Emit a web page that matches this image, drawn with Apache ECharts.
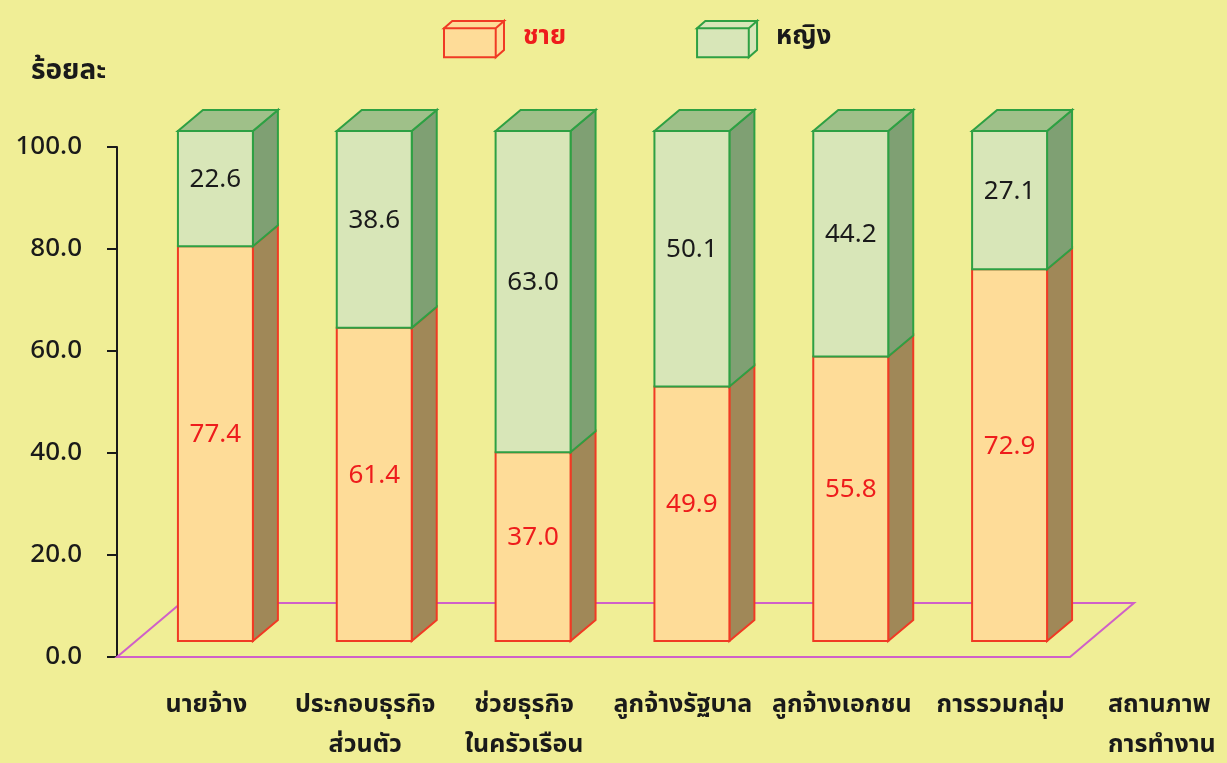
<!DOCTYPE html>
<html>
<head>
<meta charset="utf-8">
<script src="https://cdn.jsdelivr.net/npm/echarts@6/dist/echarts.min.js"></script>
<style>
  html, body { margin: 0; padding: 0; background: #f0ee96; }
  #main { width: 1227px; height: 763px; }
</style>
</head>
<body>
<div id="main"></div>
<script>
// ข้อมูล
var categories = ['นายจ้าง', 'ประกอบธุรกิจ\nส่วนตัว', 'ช่วยธุรกิจ\nในครัวเรือน', 'ลูกจ้างรัฐบาล', 'ลูกจ้างเอกชน', 'การรวมกลุ่ม'];
var male = [77.4, 61.4, 37.0, 49.9, 55.8, 72.9];
var female = [22.6, 38.6, 63.0, 50.1, 44.2, 27.1];
var yTicks = [0, 20, 40, 60, 80, 100];

(function () {
    var myChart = echarts.init(document.getElementById('main'));

    // 3D offsets
    var SHIFT_X = 19, SHIFT_Y = -16;   // bar front face sits a bit into the floor
    var DEPTH_X = 25, DEPTH_Y = -21;   // bar depth
    var FLOOR_X = 64, FLOOR_Y = -54;   // floor depth
    var numFont = 'Noto Sans, sans-serif';
    var thaiFont = 'Noto Sans Thai, Noto Sans, sans-serif';

    var styles = {
        male: { front: '#fedc98', side: '#a08858', top: '#e8c080', border: '#f03a24', label: '#ee1c1c' },
        female: { front: '#d8e6b8', side: '#7fa073', top: '#9fc089', border: '#2ea043', label: '#1a1a1a' }
    };

    function makeRender(st, drawTop) {
        return function (params, api) {
            var i = api.value(0);
            var p0 = api.coord([i, api.value(1)]);
            var p1 = api.coord([i, api.value(2)]);
            var bw = api.size([1, 0])[0] * 0.472;
            var x0 = p0[0] - bw / 2 + SHIFT_X;
            var x1 = x0 + bw;
            var yb = p0[1] + SHIFT_Y;
            var yt = p1[1] + SHIFT_Y;
            var children = [
                {
                    type: 'polygon',
                    shape: { points: [[x1, yb], [x1 + DEPTH_X, yb + DEPTH_Y], [x1 + DEPTH_X, yt + DEPTH_Y], [x1, yt]] },
                    style: { fill: st.side, stroke: st.border, lineWidth: 2 }
                },
                {
                    type: 'rect',
                    shape: { x: x0, y: yt, width: bw, height: yb - yt },
                    style: { fill: st.front, stroke: st.border, lineWidth: 2 }
                }
            ];
            if (drawTop) {
                children.push({
                    type: 'polygon',
                    shape: { points: [[x0, yt], [x0 + DEPTH_X, yt + DEPTH_Y], [x1 + DEPTH_X, yt + DEPTH_Y], [x1, yt]] },
                    style: { fill: st.top, stroke: st.border, lineWidth: 2 }
                });
            }
            children.push({
                type: 'text',
                style: {
                    text: (api.value(2) - api.value(1)).toFixed(1),
                    x: x0 + bw / 2,
                    y: (yt + yb) / 2 - 9,
                    align: 'center',
                    verticalAlign: 'middle',
                    fill: st.label,
                    font: '26px ' + numFont
                }
            });
            return { type: 'group', children: children };
        };
    }

    var maleData = male.map(function (v, i) { return [i, 0, v]; });
    var femaleData = female.map(function (v, i) { return [i, male[i], male[i] + v]; });

    var cube = 'path://M0,7L50,7L50,35L0,35Z M0,7L8,0L58,0L50,7Z M50,7L58,0L58,28L50,35Z';

    var option = {
        backgroundColor: '#f0ee96',
        title: [
            {
                text: 'ร้อยละ',
                left: 26, top: 54,
                textStyle: { fontFamily: thaiFont, fontSize: 28, fontWeight: 'bold', color: '#1a1a1a' }
            }
        ],
        legend: {
            left: 438,
            top: 15,
            itemWidth: 60,
            itemHeight: 37,
            itemGap: 130,
            icon: cube,
            data: [
                { name: 'ชาย', textStyle: { color: '#ee1c1c' } },
                { name: 'หญิง', textStyle: { color: '#1a1a1a' } }
            ],
            textStyle: { fontFamily: thaiFont, fontSize: 26, fontWeight: 'bold', padding: [0, 0, 0, 14] }
        },
        grid: {
            left: 117,
            right: 157,
            top: 147,
            bottom: 106,
            outerBoundsMode: 'none'
        },
        xAxis: {
            type: 'category',
            data: categories,
            name: 'สถานภาพ\nการทำงาน',
            nameLocation: 'end',
            nameGap: 38,
            nameTextStyle: {
                fontFamily: thaiFont, fontSize: 25, fontWeight: 'bold', color: '#1a1a1a',
                verticalAlign: 'top', align: 'left', lineHeight: 40, padding: [30, 0, 0, 0]
            },
            axisLine: { show: false },
            axisTick: { show: false },
            axisLabel: {
                interval: 0,
                margin: 30,
                fontFamily: thaiFont, fontSize: 25, fontWeight: 'bold', color: '#1a1a1a',
                lineHeight: 40,
                padding: [0, 0, 0, 20]
            },
            splitLine: { show: false }
        },
        yAxis: {
            type: 'value',
            min: yTicks[0],
            max: yTicks[yTicks.length - 1],
            interval: 20,
            axisLine: { show: true, lineStyle: { color: '#1a1a1a', width: 2 } },
            axisTick: { show: true, inside: false, length: 10, lineStyle: { color: '#1a1a1a', width: 2 } },
            axisLabel: {
                margin: 35,
                fontFamily: numFont, fontSize: 26, fontWeight: 500, color: '#1a1a1a',
                formatter: function (v) { return v.toFixed(1); }
            },
            splitLine: { show: false }
        },
        series: [
            {
                name: 'floor',
                type: 'custom',
                silent: true,
                z: 1,
                data: [[0]],
                renderItem: function (params) {
                    var cs = params.coordSys;
                    var yb = cs.y + cs.height;
                    var xl = cs.x, xr = cs.x + cs.width;
                    return {
                        type: 'polygon',
                        shape: { points: [[xl, yb], [xr, yb], [xr + FLOOR_X, yb + FLOOR_Y], [xl + FLOOR_X, yb + FLOOR_Y]] },
                        style: { fill: 'none', stroke: '#d060c8', lineWidth: 2 }
                    };
                }
            },
            {
                name: 'ชาย',
                type: 'custom',
                z: 3,
                itemStyle: { color: styles.male.front, borderColor: styles.male.border, borderWidth: 2 },
                encode: { x: 0, y: [1, 2] },
                data: maleData,
                renderItem: makeRender(styles.male, false)
            },
            {
                name: 'หญิง',
                type: 'custom',
                z: 3,
                itemStyle: { color: styles.female.front, borderColor: styles.female.border, borderWidth: 2 },
                encode: { x: 0, y: [1, 2] },
                data: femaleData,
                renderItem: makeRender(styles.female, true)
            }
        ]
    };
    myChart.setOption(option);
    window.addEventListener('resize', function () {
        myChart.resize();
    });
})();
</script>
</body>
</html>
